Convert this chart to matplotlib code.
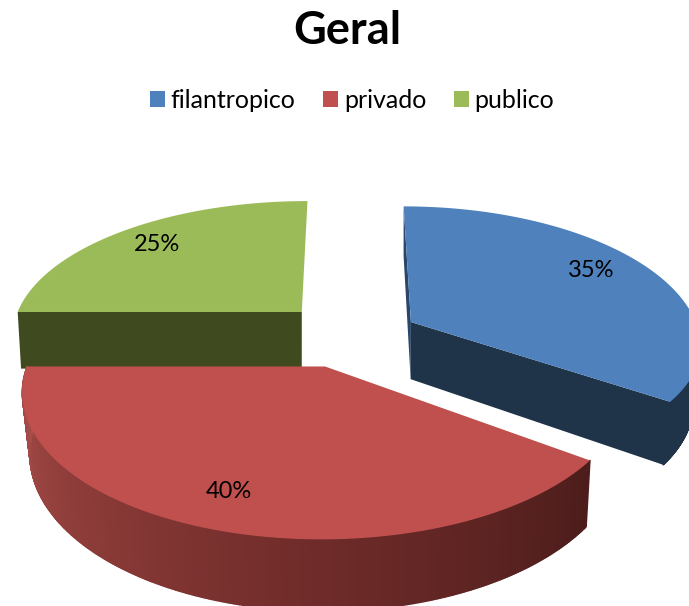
import numpy as np
import matplotlib
matplotlib.use('Agg')
import matplotlib.pyplot as plt
from matplotlib.patches import Patch, Polygon
from matplotlib.collections import PolyCollection
from matplotlib.colors import LinearSegmentedColormap

labels = ['filantropico', 'privado', 'publico']
values = [35, 40, 25]
top_colors = ['#4f81bd', '#c0504d', '#9bbb59']
face_colors = ['#1f3349', '#4f1e1c', '#3f4a1f']
label_radius = [0.80, 0.808, 0.805]
label_angle = [59.1, 199.8, 315]

# layout of the fake 3d pie, in pixels
explode = 0.21
cx, cy = 350, 335
rx, ry = 298, 138
persp = 0.16
depth = 58
# per slice fit: x scale, y scale back, y scale front, x shift, y shift
fit = [(0.97, 1.0, 0.92, 6, 0), (0.968, 0.98, 0.98, -5, 3), (0.976, 0.974, 0.974, -5, -3)]
# side walls lean inwards a bit: amount, x of the vanishing point
lean = [(0.026, 400), (0.02, 400), (0.012, 300)]


def project(X, Y, drop=0.0):
    s = 1 / (1 - persp * Y)
    return cx + X * rx * s, cy + (Y * ry + drop * depth) * s


def rim(ox, oy, a0, a1, r=1.0, n=300):
    t = np.radians(np.linspace(a0, a1, n))
    return ox + r * np.sin(t), oy - r * np.cos(t)


def place(i, ox, oy, X, Y, drop=0.0):
    # project a point of slice i, fitted around its apex
    ax0, ay0 = project(ox, oy)
    x, y = project(X, Y)
    sx, sy_back, sy_front, dx, dy = fit[i]
    x = ax0 + (x - ax0) * sx + dx
    y = ay0 + (y - ay0) * np.where(y < ay0, sy_back, sy_front) + dy
    y = y + drop * depth / (1 - persp * np.asarray(Y))
    x = x - (x - lean[i][1]) * lean[i][0] * drop
    return x, y


fig = plt.figure(figsize=(6.89, 6.06), dpi=100)
ax = fig.add_axes([0, 0, 1, 1])
ax.set_xlim(0, 689)
ax.set_ylim(606, 0)
ax.axis('off')

plt.rcParams['font.family'] = ['Lato', 'DejaVu Sans']

# slice angles, clockwise from 12 o'clock
edges = np.concatenate([[0], np.cumsum(values)]) * 360 / sum(values)
slices = []
for i in range(len(values)):
    a0, a1 = edges[i], edges[i + 1]
    mid = np.radians((a0 + a1) / 2)
    slices.append((a0, a1, explode * np.sin(mid), -explode * np.cos(mid)))


def cut_face(i, a, color, z):
    a0, a1, ox, oy = slices[i]
    X, Y = rim(ox, oy, a, a, n=1)
    px = [place(i, ox, oy, ox, oy), place(i, ox, oy, X[0], Y[0]),
          place(i, ox, oy, X[0], Y[0], 1), place(i, ox, oy, ox, oy, 1)]
    ax.add_patch(Polygon(px, closed=True, fc=color, ec='none', zorder=z))


def outer_wall(i, a0, a1, cmap, z):
    ox, oy = slices[i][2:]
    X, Y = rim(ox, oy, a0, a1)
    xt, yt = place(i, ox, oy, X, Y)
    xb, yb = place(i, ox, oy, X, Y, 1)
    quads = [[(xt[j], yt[j]), (xt[j + 1], yt[j + 1]), (xb[j + 1], yb[j + 1]), (xb[j], yb[j])]
             for j in range(len(X) - 1)]
    cols = [cmap(j / (len(quads) - 1)) for j in range(len(quads))]
    ax.add_collection(PolyCollection(quads, facecolors=cols, edgecolors=cols, linewidths=1.0, zorder=z))


def top_face(i, color, z):
    a0, a1, ox, oy = slices[i]
    X, Y = rim(ox, oy, a0, a1)
    xt, yt = place(i, ox, oy, np.r_[ox, X], np.r_[oy, Y])
    ax.add_patch(Polygon(np.c_[xt, yt], closed=True, fc=color, ec='none', zorder=z))


red_wall = LinearSegmentedColormap.from_list(
    'w', [(0, '#4c1d1b'), (0.375, '#6e2b29'), (0.72, '#8f3d3a'), (1, '#a84e4b')])
blue_wall = LinearSegmentedColormap.from_list('b', [face_colors[0], face_colors[0]])

# green at the back
cut_face(2, slices[2][0], face_colors[2], 1)
top_face(2, top_colors[2], 2)

# blue
cut_face(0, slices[0][0], '#2b466b', 1)
cut_face(0, slices[0][1], face_colors[0], 1)
outer_wall(0, 90, slices[0][1], blue_wall, 1)
top_face(0, top_colors[0], 2)

# red in front
outer_wall(1, slices[1][0], slices[1][1], red_wall, 3)
top_face(1, top_colors[1], 4)

for i, (a0, a1, ox, oy) in enumerate(slices):
    t = np.radians(label_angle[i])
    x, y = place(i, ox, oy, ox + label_radius[i] * np.sin(t), oy - label_radius[i] * np.cos(t))
    ax.text(x, y, f'{values[i]}%', fontsize=17, ha='center', va='center', color='black', zorder=6)

ax.text(347, 31, 'Geral', fontsize=32.5, fontweight='bold', ha='center', va='center')

handles = [Patch(facecolor=c, edgecolor='none', label=l) for c, l in zip(top_colors, labels)]
ax.legend(handles=handles, ncol=3, loc='center', bbox_to_anchor=(352 / 689, 1 - 100 / 606),
          frameon=False, fontsize=18, handlelength=0.6, handleheight=0.6,
          handletextpad=0.24, columnspacing=1.1)

fig.savefig('out.png', dpi=100)
